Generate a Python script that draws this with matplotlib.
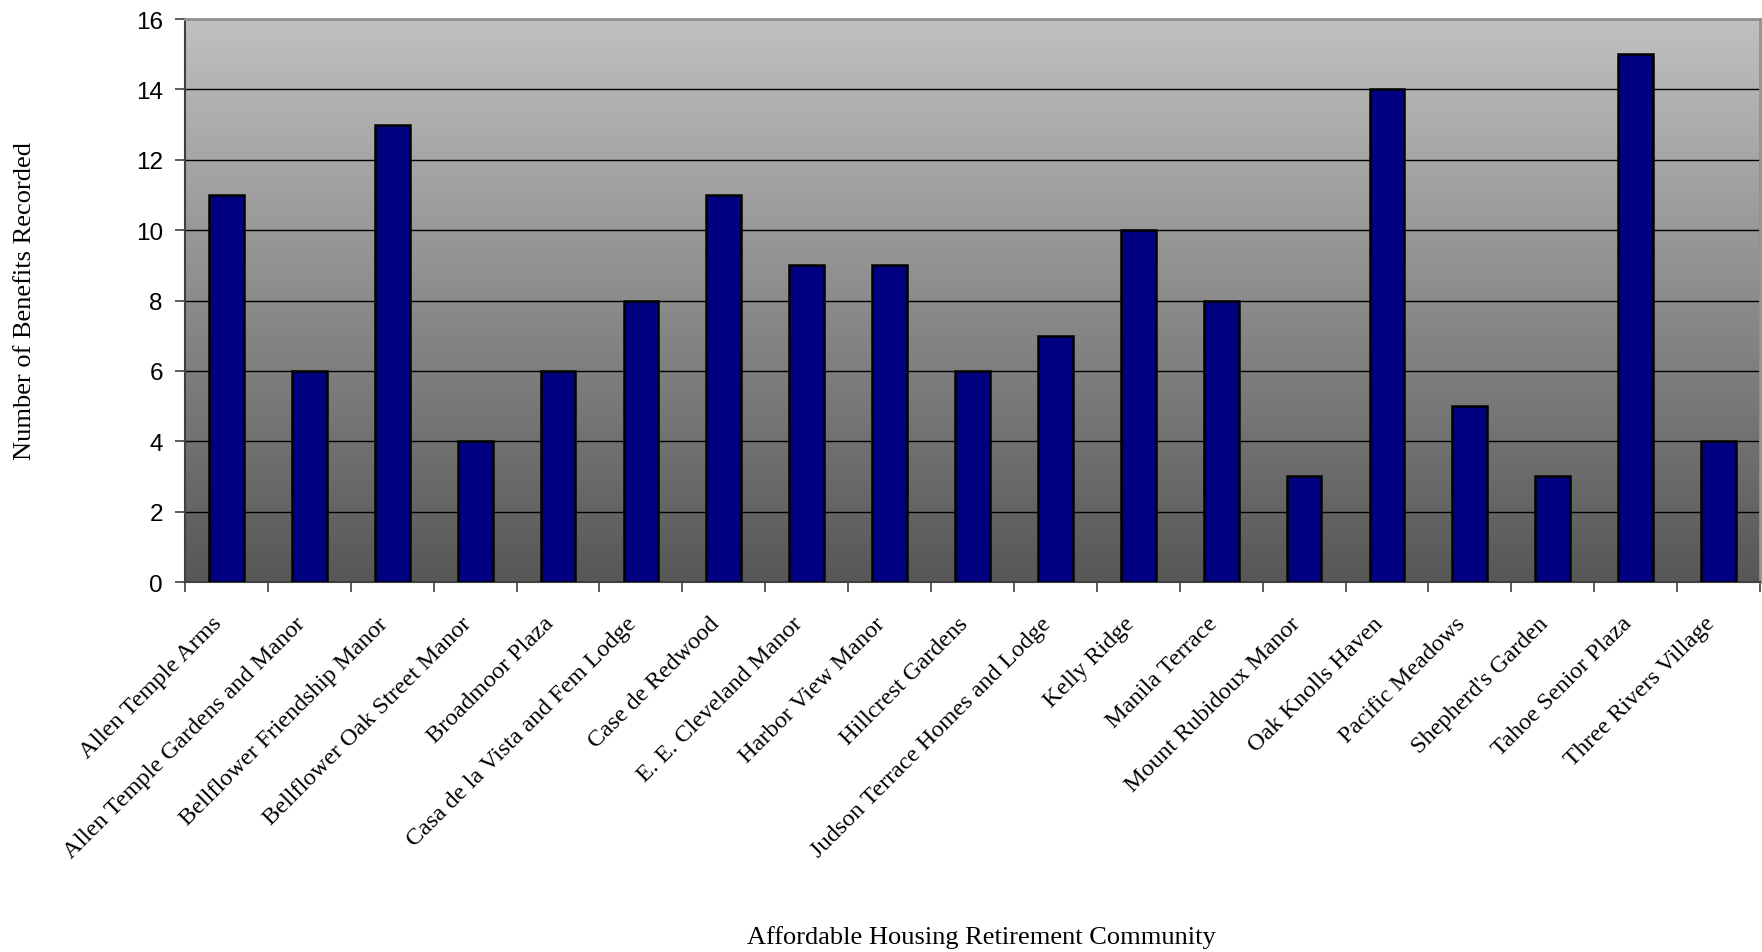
import numpy as np
import matplotlib
matplotlib.use("Agg")
import matplotlib.pyplot as plt
from matplotlib.colors import LinearSegmentedColormap

communities = [
    "Allen Temple Arms", "Allen Temple Gardens and Manor", "Bellflower Friendship Manor",
    "Bellflower Oak Street Manor", "Broadmoor Plaza", "Casa de la Vista and Fem Lodge",
    "Case de Redwood", "E. E. Cleveland Manor", "Harbor View Manor", "Hillcrest Gardens",
    "Judson Terrace Homes and Lodge", "Kelly Ridge", "Manila Terrace", "Mount Rubidoux Manor",
    "Oak Knolls Haven", "Pacific Meadows", "Shepherd's Garden", "Tahoe Senior Plaza",
    "Three Rivers Village",
]
benefits = [11, 6, 13, 4, 6, 8, 11, 9, 9, 6, 7, 10, 8, 3, 14, 5, 3, 15, 4]
yticks = [0, 2, 4, 6, 8, 10, 12, 14, 16]

fig = plt.figure(figsize=(17.62, 9.53), dpi=100)
ax = fig.add_axes([185 / 1762, 1 - 583 / 953, 1575 / 1762, 563 / 953])

# grey gradient background, light at top
cmap = LinearSegmentedColormap.from_list("bg", ["#575757", "#c0c0c0"])
grad = np.linspace(0, 1, 256).reshape(-1, 1)
ax.imshow(grad, cmap=cmap, origin="lower", aspect="auto",
          extent=[0, 1, 0, 1], transform=ax.transAxes, zorder=0)

x = np.arange(len(communities))
ax.bar(x, benefits, width=0.42, color="#000080", edgecolor="black", linewidth=1.8, zorder=3)

ax.set_xlim(-0.5, len(communities) - 0.5)
ax.set_ylim(0, 16)
ax.set_yticks(yticks)
ax.set_yticklabels([str(v) for v in yticks], fontfamily="Liberation Sans", fontsize=17.5)
ax.yaxis.grid(True, color="black", linewidth=1.0, zorder=1)
ax.set_axisbelow(True)

ax.set_xticks(x)
ax.set_xticklabels(communities, rotation=45, ha="right", va="top",
                   fontfamily="Liberation Serif", fontsize=17.5)
ax.set_xticks(np.arange(-0.5, len(communities)), minor=True)
ax.tick_params(axis="x", which="major", length=0, pad=22)
ax.tick_params(axis="x", which="minor", length=7, width=1.2, direction="out", color="#404040")
ax.tick_params(axis="y", length=7, width=1.2, direction="out", pad=9, color="#404040")

for side in ["top", "right"]:
    ax.spines[side].set_color("#909090")
    ax.spines[side].set_linewidth(2)
for side in ["left", "bottom"]:
    ax.spines[side].set_color("#404040")
    ax.spines[side].set_linewidth(1.5)

fig.text(981 / 1762, 1 - 938 / 953, "Affordable Housing Retirement Community",
         ha="center", va="center", fontfamily="Liberation Serif", fontsize=19)
fig.text(25 / 1762, 1 - 301 / 953, "Number of Benefits Recorded", rotation=90,
         ha="center", va="center", fontfamily="Liberation Serif", fontsize=19)

fig.savefig("out.png", dpi=100, facecolor="white")
